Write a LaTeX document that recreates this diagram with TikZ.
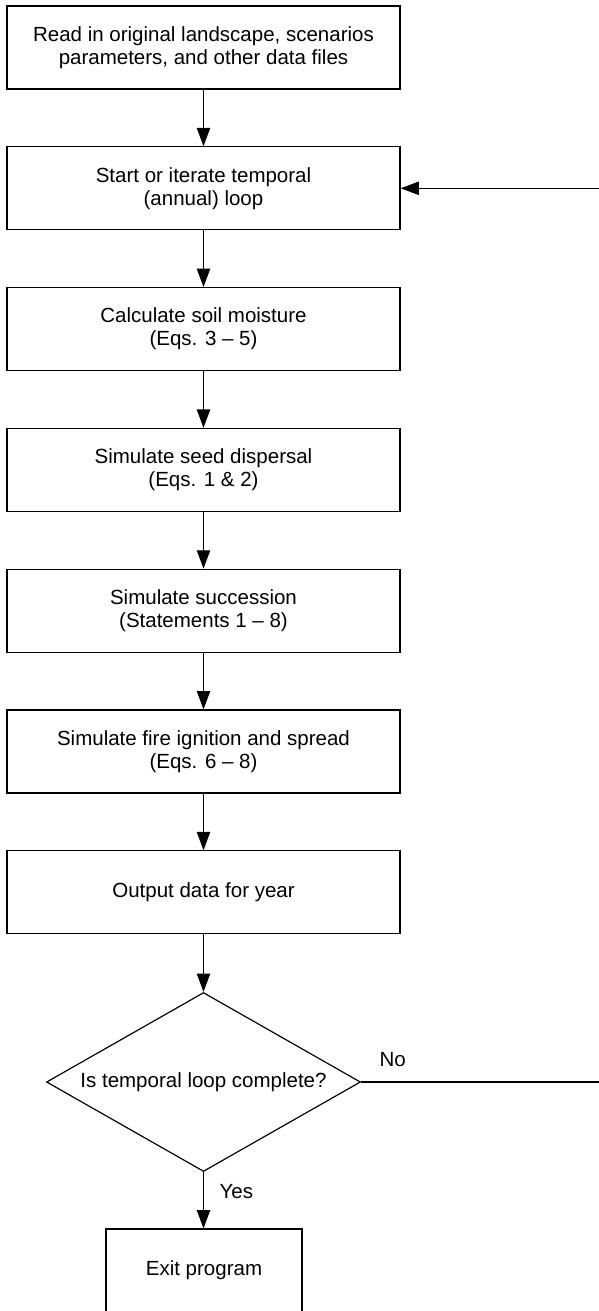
\documentclass[tikz,border=0pt]{standalone}
\usepackage{fontspec}
\setmainfont{Liberation Sans}
\usetikzlibrary{shapes.geometric,arrows.meta}

\tikzset{
    stepbox/.style={draw, line width=1pt, rectangle, minimum width=11.79cm, minimum height=2.49cm, inner sep=0pt, align=center, font=\fontsize{17.5}{19.6}\selectfont},
    exitbox/.style={stepbox, minimum width=5.88cm},
    checkbox/.style={draw, line width=1pt, diamond, aspect=1.75, minimum width=9.42cm, minimum height=5.37cm, inner sep=0pt, font=\fontsize{17.5}{19.6}\selectfont},
    flow/.style={line width=1pt, -{Triangle[length=0.55cm, width=0.4cm]}},
    answer/.style={inner sep=0pt, font=\fontsize{17.5}{19.6}\selectfont},
}

\begin{document}
\begin{tikzpicture}[x=0.03cm, y=-0.03cm]
    \useasboundingbox (0,0) rectangle (599,1311);

    \node (read) at (203.5,47.5) [stepbox] {Read in original landscape, scenarios\\parameters, and other data files};
    \node (loop) at (203.5,188.3) [stepbox] {Start or iterate temporal\\(annual) loop};
    \node (soil) at (203.5,329.1) [stepbox] {Calculate soil moisture\\(Eqs. 3 – 5)};
    \node (seed) at (203.5,469.9) [stepbox] {Simulate seed dispersal\\(Eqs. 1 \& 2)};
    \node (succ) at (203.5,610.7) [stepbox] {Simulate succession\\(Statements 1 – 8)};
    \node (fire) at (203.5,751.5) [stepbox] {Simulate fire ignition and spread\\(Eqs. 6 – 8)};
    \node (output) at (203.5,892.3) [stepbox] {Output data for year};
    \node (check) at (203.5,1082) [checkbox] {Is temporal loop complete?};
    \node (exit) at (204,1270.5) [exitbox] {Exit program};

    % main sequence
    \draw [flow] (read) -- (loop);
    \draw [flow] (loop) -- (soil);
    \draw [flow] (soil) -- (seed);
    \draw [flow] (seed) -- (succ);
    \draw [flow] (succ) -- (fire);
    \draw [flow] (fire) -- (output);
    \draw [flow] (output) -- (check);

    % decision
    \draw [flow] (check.south) -- (check.south |- exit.north) node[pos=0.47, anchor=base west, xshift=0.465cm, answer]{Yes};
    \coordinate (noturn) at (600.5,1082);
    \draw [flow] (check.east) -- node[pos=0, anchor=base west, xshift=0.54cm, yshift=0.48cm, answer]{No} (noturn) |- (loop.east);

\end{tikzpicture}
\end{document}
